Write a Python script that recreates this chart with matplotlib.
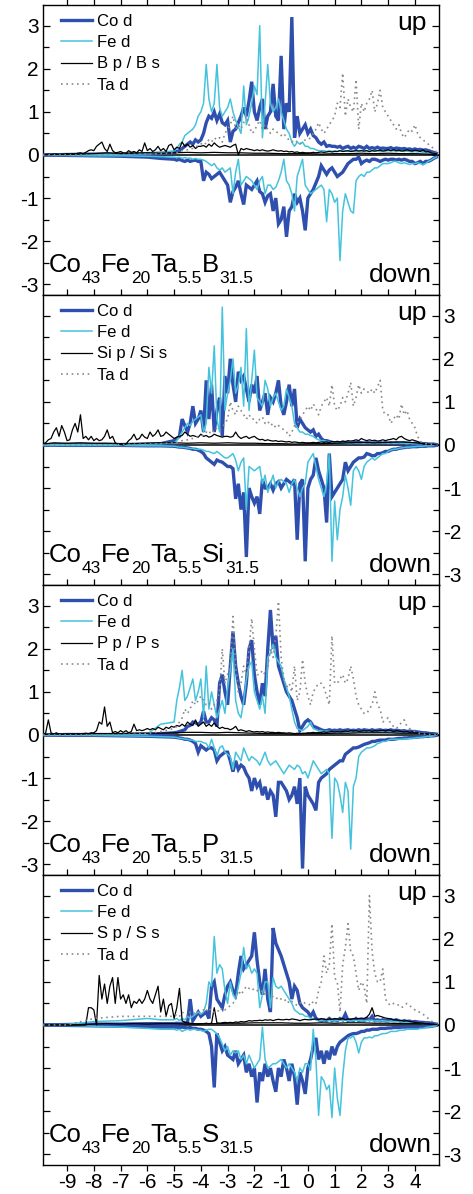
import numpy as np
import matplotlib
matplotlib.use("Agg")
import matplotlib.pyplot as plt
from matplotlib.ticker import MultipleLocator, FixedLocator
from matplotlib.transforms import IdentityTransform

plt.rcParams['font.family'] = ['Liberation Sans', 'DejaVu Sans']
plt.rcParams['axes.unicode_minus'] = False

# ---------------------------------------------------------------------------
# Energy grids (eV, relative to E_F)
#   d-states : coarse tail -9.9 .. -5.5, then 0.1 eV steps from -5.0 to 4.8
#   p-states : 0.1 eV steps over the full window
#   s-states : 0.5 eV steps
# ---------------------------------------------------------------------------
E_D = np.round(np.concatenate([[-9.9, -9.0, -8.0, -7.0, -6.0, -5.5],
                               np.arange(-5.0, 4.85, 0.1)]), 2)
E_P = np.round(np.arange(-9.9, 4.85, 0.1), 2)
E_S = np.round(np.concatenate([[-9.9], np.arange(-9.5, 4.55, 0.5), [4.8]]), 2)

# ----------------------------- Co43Fe20Ta5.5B31.5 ---------------------------
CO_UP_B = [0.0, 0.01, 0.02, 0.02, 0.03, 0.04,
           0.05, 0.08, 0.1, 0.15, 0.2, 0.25, 0.3, 0.25, 0.35, 0.3,
           0.35, 0.5, 0.75, 0.9, 0.85, 1.0, 0.8, 0.95, 0.75, 0.7,
           0.8, 0.3, 0.55, 0.6, 0.75, 0.9, 1.1, 0.9, 1.25, 1.7,
           1.0, 0.8, 1.1, 1.3, 0.6, 0.9, 1.0, 1.65, 0.9, 0.8,
           2.3, 0.6, 1.2, 1.0, 3.2, 0.4, 0.9, 0.5, 0.6, 0.7,
           0.5, 0.6, 0.45, 0.4, 0.3, 0.25, 0.3, 0.2, 0.22, 0.2,
           0.2, 0.18, 0.2, 0.15, 0.18, 0.2, 0.15, 0.18, 0.15, 0.2,
           0.18, 0.15, 0.2, 0.15, 0.17, 0.15, 0.18, 0.15, 0.16, 0.15,
           0.15, 0.17, 0.14, 0.16, 0.15, 0.14, 0.15, 0.13, 0.14, 0.12,
           0.14, 0.12, 0.13, 0.11, 0.12, 0.1, 0.08, 0.06, 0.04]
CO_DN_B = [0.0, -0.01, -0.02, -0.03, -0.05, -0.08,
           -0.1, -0.12, -0.1, -0.13, -0.15, -0.12, -0.15, -0.13, -0.12, -0.15,
           -0.15, -0.6, -0.4, -0.45, -0.55, -0.5, -0.45, -0.4, -0.5, -0.6,
           -0.7, -1.1, -0.85, -0.75, -0.6, -0.9, -1.15, -0.7, -0.75, -0.8,
           -0.7, -0.6, -0.85, -0.9, -1.1, -0.95, -0.9, -1.3, -1.0, -1.6,
           -1.5, -1.2, -1.9, -1.3, -1.2, -0.9, -1.1, -1.0, -1.3, -1.75,
           -1.0, -0.9, -0.8, -0.65, -0.5, -0.25, -0.35, -0.45, -0.35, -0.3,
           -0.4, -0.5, -0.45, -0.4, -0.3, -0.2, -0.15, -0.1, -0.1, -0.05,
           -0.2, -0.15, -0.12, -0.15, -0.1, -0.1, -0.12, -0.15, -0.12, -0.1,
           -0.12, -0.1, -0.1, -0.12, -0.1, -0.12, -0.1, -0.12, -0.15, -0.15,
           -0.2, -0.18, -0.15, -0.2, -0.15, -0.15, -0.12, -0.08, -0.05]
FE_UP_B = [0.0, 0.01, 0.01, 0.02, 0.03, 0.05,
           0.1, 0.15, 0.25, 0.3, 0.45, 0.5, 0.55, 0.6, 0.7, 0.9,
           1.0, 1.2, 2.1, 1.3, 1.0, 1.2, 2.1, 1.1, 0.9, 1.0,
           1.1, 1.3, 1.0, 0.8, 0.65, 0.5, 1.6, 0.7, 0.9, 1.2,
           1.6, 1.4, 3.0, 0.4, 1.2, 2.1, 1.2, 1.0, 1.1, 1.3,
           1.0, 0.8, 0.6, 0.5, 0.3, 0.2, 0.3, 0.25, 0.3, 0.2,
           0.2, 0.15, 0.15, 0.12, 0.1, 0.1, 0.1, 0.08, 0.1, 0.08,
           0.1, 0.08, 0.1, 0.09, 0.1, 0.08, 0.1, 0.09, 0.1, 0.1,
           0.1, 0.09, 0.1, 0.08, 0.1, 0.09, 0.1, 0.08, 0.1, 0.09,
           0.1, 0.09, 0.1, 0.08, 0.09, 0.1, 0.08, 0.09, 0.08, 0.07,
           0.08, 0.07, 0.08, 0.06, 0.07, 0.05, 0.05, 0.04, 0.03]
FE_DN_B = [0.0, -0.01, -0.02, -0.02, -0.03, -0.04,
           -0.05, -0.06, -0.05, -0.08, -0.06, -0.08, -0.07, -0.1, -0.08, -0.1,
           -0.1, -0.12, -0.15, -0.2, -0.25, -0.2, -0.3, -0.35, -0.3, -0.4,
           -0.35, -0.3, -0.9, -0.4, -0.1, -0.7, -0.6, -0.5, -0.55, -0.6,
           -0.7, -0.8, -0.6, -0.5, -0.9, -0.7, -0.7, -0.8, -0.75, -0.6,
           -0.4, -0.1, -0.6, -0.7, -0.9, -1.3, -0.5, -0.3, -0.1, -0.7,
           -0.8, -0.9, -0.85, -0.8, -0.75, -0.7, -0.8, -1.55, -0.8, -0.9,
           -1.1, -1.0, -2.45, -1.3, -0.9, -1.1, -1.3, -1.35, -0.6, -0.5,
           -0.45, -0.5, -0.4, -0.4, -0.35, -0.3, -0.3, -0.25, -0.2, -0.2,
           -0.2, -0.18, -0.15, -0.15, -0.18, -0.2, -0.18, -0.2, -0.22, -0.2,
           -0.2, -0.18, -0.2, -0.22, -0.2, -0.15, -0.12, -0.08, -0.05]
TA_UP_B = [0.0, 0.0, 0.0, 0.01, 0.02, 0.03,
           0.05, 0.05, 0.08, 0.1, 0.1, 0.12, 0.15, 0.15, 0.2, 0.2,
           0.25, 0.3, 0.25, 0.35, 0.3, 0.4, 0.35, 0.4, 0.3, 0.5,
           0.6, 0.7, 0.9, 0.6, 0.7, 0.6, 0.75, 0.9, 0.7, 0.5,
           0.55, 0.7, 0.8, 0.6, 0.7, 0.6, 0.5, 0.6, 0.55, 0.5,
           0.45, 0.5, 0.4, 0.35, 0.3, 0.35, 0.3, 0.25, 0.3, 0.35,
           0.35, 0.4, 0.5, 0.6, 0.75, 0.6, 0.5, 0.6, 0.7, 0.8,
           0.9, 1.2, 1.1, 1.9, 0.9, 1.3, 1.1, 1.0, 1.75, 0.6,
           1.2, 1.0, 1.2, 1.3, 1.5, 1.0, 1.2, 1.5, 1.1, 1.0,
           0.9, 0.8, 0.7, 0.6, 0.7, 0.5, 0.4, 0.5, 0.6, 0.55,
           0.7, 0.5, 0.4, 0.35, 0.3, 0.25, 0.2, 0.15, 0.1]
XP_UP_B = [0.01, 0.01, 0.02, 0.01, 0.02, 0.02, 0.01, 0.02, 0.02, 0.03,
           0.02, 0.03, 0.02, 0.04, 0.05, 0.03, 0.06, 0.1, 0.12, 0.1,
           0.2, 0.25, 0.3, 0.15, 0.08, 0.25, 0.1, 0.05, 0.06, 0.08,
           0.05, 0.04, 0.1, 0.06, 0.08, 0.05, 0.12, 0.08, 0.28, 0.1,
           0.15, 0.08, 0.12, 0.2, 0.1, 0.15, 0.08, 0.22, 0.25, 0.12,
           0.18, 0.15, 0.3, 0.2, 0.25, 0.18, 0.22, 0.15, 0.2, 0.2,
           0.22, 0.18, 0.25, 0.2, 0.28, 0.22, 0.18, 0.2, 0.22, 0.2,
           0.18, 0.22, 0.25, 0.0, 0.15, 0.12, 0.15, 0.13, 0.12, 0.1,
           0.12, 0.1, 0.12, 0.1, 0.09, 0.1, 0.12, 0.1, 0.09, 0.1,
           0.08, 0.09, 0.07, 0.08, 0.06, 0.07, 0.05, 0.06, 0.05, 0.05,
           0.05, 0.06, 0.05, 0.06, 0.07, 0.06, 0.07, 0.08, 0.07, 0.08,
           0.08, 0.1, 0.08, 0.09, 0.1, 0.08, 0.09, 0.1, 0.09, 0.1,
           0.09, 0.1, 0.08, 0.1, 0.09, 0.1, 0.11, 0.09, 0.1, 0.12,
           0.1, 0.12, 0.1, 0.11, 0.09, 0.1, 0.12, 0.1, 0.09, 0.11,
           0.1, 0.08, 0.12, 0.07, 0.08, 0.05, 0.04, 0.03]
XS_UP_B = [0.0, 0.01, 0.01, 0.02, 0.03, 0.05, 0.03, 0.04, 0.05, 0.04, 0.05,
           0.06, 0.05, 0.06, 0.05, 0.05, 0.04, 0.04, 0.03, 0.03, 0.03,
           0.02, 0.03, 0.03, 0.04, 0.03, 0.04, 0.03, 0.03, 0.02, 0.01]

# ----------------------------- Co43Fe20Ta5.5Si31.5 --------------------------
CO_UP_SI = [0.0, 0.01, 0.01, 0.01, 0.02, 0.03,
            0.1, 0.15, 0.2, 0.6, 0.45, 0.3, 0.5, 0.9, 0.5, 0.6,
            0.8, 0.3, 1.5, 0.6, 1.4, 0.3, 0.8, 1.1, 0.2, 1.6,
            1.2, 2.0, 1.4, 1.0, 1.7, 1.5, 1.6, 1.3, 1.0, 1.4,
            1.2, 1.6, 0.8, 1.0, 1.2, 0.7, 1.1, 1.0, 1.2, 1.5,
            0.9, 0.7, 1.0, 1.4, 0.9, 1.3, 0.4, 0.6, 0.5, 0.4,
            0.35, 0.3, 0.35, 0.2, 0.25, 0.15, 0.1, 0.1, 0.08, 0.06,
            0.05, 0.06, 0.05, 0.06, 0.05, 0.05, 0.04, 0.05, 0.06, 0.05,
            0.05, 0.04, 0.05, 0.05, 0.04, 0.05, 0.04, 0.05, 0.04, 0.05,
            0.04, 0.05, 0.04, 0.05, 0.04, 0.04, 0.05, 0.04, 0.04, 0.03,
            0.04, 0.03, 0.04, 0.03, 0.03, 0.02, 0.02, 0.02, 0.01]
CO_DN_SI = [0.0, -0.01, -0.01, -0.01, -0.02, -0.02,
            -0.03, -0.04, -0.05, -0.05, -0.06, -0.07, -0.08, -0.1, -0.1, -0.12,
            -0.15, -0.2, -0.3, -0.35, -0.4, -0.45, -0.35, -0.38, -0.4, -0.45,
            -0.5, -0.5, -0.55, -1.25, -0.9, -1.5, -1.1, -2.6, -1.0, -1.2,
            -1.35, -1.2, -1.6, -0.8, -1.0, -1.0, -0.9, -1.05, -0.9, -0.85,
            -1.0, -0.9, -0.8, -0.85, -0.9, -0.8, -2.2, -0.9, -0.8, -2.7,
            -1.0, -0.8, -0.7, -0.3, -0.6, -0.8, -1.0, -1.8, -0.2, -1.2,
            -1.1, -1.0, -0.9, -0.8, -0.4, -0.6, -0.5, -0.4, -0.35, -0.3,
            -0.3, -0.28, -0.2, -0.22, -0.25, -0.25, -0.2, -0.2, -0.18, -0.15,
            -0.15, -0.12, -0.1, -0.1, -0.08, -0.07, -0.06, -0.05, -0.05, -0.04,
            -0.04, -0.04, -0.03, -0.03, -0.03, -0.02, -0.02, -0.02, -0.01]
FE_UP_SI = [0.0, 0.01, 0.01, 0.01, 0.02, 0.03,
            0.05, 0.1, 0.2, 0.3, 0.4, 0.5, 0.45, 0.55, 0.6, 0.65,
            0.7, 0.3, 0.5, 1.8, 1.2, 2.3, 0.6, 0.3, 3.2, 0.8,
            1.2, 1.5, 2.0, 1.2, 1.4, 1.8, 0.9, 2.7, 0.8, 1.5,
            2.2, 1.1, 1.0, 0.9, 1.5, 1.3, 0.9, 1.1, 1.2, 1.0,
            0.8, 0.9, 1.3, 1.1, 0.9, 0.5, 0.4, 0.3, 0.3, 0.25,
            0.25, 0.22, 0.2, 0.15, 0.12, 0.1, 0.1, 0.08, 0.07, 0.06,
            0.05, 0.05, 0.06, 0.05, 0.05, 0.04, 0.05, 0.05, 0.04, 0.05,
            0.05, 0.04, 0.05, 0.04, 0.05, 0.05, 0.04, 0.05, 0.04, 0.05,
            0.04, 0.05, 0.04, 0.04, 0.05, 0.04, 0.04, 0.03, 0.04, 0.03,
            0.03, 0.03, 0.03, 0.02, 0.02, 0.02, 0.01, 0.01, 0.01]
FE_DN_SI = [0.0, -0.01, -0.01, -0.01, -0.02, -0.02,
            -0.03, -0.04, -0.05, -0.05, -0.06, -0.07, -0.08, -0.08, -0.1, -0.1,
            -0.1, -0.12, -0.15, -0.15, -0.18, -0.2, -0.15, -0.2, -0.25, -0.3,
            -0.3, -0.25, -0.2, -0.35, -0.6, -0.4, -0.3, -1.5, -0.5, -0.55,
            -0.6, -0.55, -0.5, -0.9, -0.7, -1.1, -0.9, -0.7, -1.0, -0.85,
            -0.8, -0.85, -0.9, -1.1, -0.9, -0.8, -1.0, -1.2, -1.0, -0.9,
            -0.4, -0.3, -0.2, -0.5, -0.8, -1.0, -1.2, -0.9, -0.2, -2.7,
            -1.3, -2.2, -1.5, -1.2, -0.7, -1.0, -1.4, -0.6, -0.5, -0.6,
            -0.8, -0.5, -0.4, -0.35, -0.3, -0.35, -0.3, -0.25, -0.2, -0.2,
            -0.15, -0.12, -0.1, -0.1, -0.08, -0.07, -0.06, -0.05, -0.05, -0.04,
            -0.04, -0.03, -0.03, -0.03, -0.02, -0.02, -0.02, -0.01, -0.01]
TA_UP_SI = [0.0, 0.0, 0.0, 0.01, 0.02, 0.03,
            0.05, 0.05, 0.08, 0.1, 0.1, 0.12, 0.15, 0.15, 0.18, 0.2,
            0.2, 0.25, 0.3, 0.25, 0.35, 0.3, 0.4, 0.35, 0.4, 0.5,
            0.6, 1.0, 0.8, 0.7, 0.9, 0.8, 0.7, 0.6, 0.7, 0.6,
            0.6, 0.5, 0.6, 0.65, 0.5, 0.55, 0.45, 0.5, 0.4, 0.45,
            0.4, 0.35, 0.3, 0.2, 0.3, 0.45, 0.5, 0.6, 0.7, 0.8,
            0.9, 0.8, 0.95, 0.85, 0.7, 0.9, 1.0, 1.1, 0.9, 1.4,
            0.9, 0.8, 0.9, 1.1, 1.0, 1.2, 1.45, 0.9, 1.1, 1.4,
            1.2, 1.3, 1.25, 1.2, 1.3, 1.2, 1.35, 1.5, 0.8, 0.7,
            0.7, 0.5, 0.6, 0.7, 0.6, 0.95, 0.7, 0.8, 0.6, 0.5,
            0.4, 0.2, 0.08, 0.05, 0.03, 0.02, 0.02, 0.01, 0.01]
XP_UP_SI = [0.03, 0.05, 0.12, 0.15, 0.3, 0.4, 0.2, 0.45, 0.3, 0.1,
            0.12, 0.35, 0.5, 0.3, 0.7, 0.15, 0.2, 0.12, 0.2, 0.1,
            0.15, 0.1, 0.12, 0.2, 0.35, 0.15, 0.2, 0.05, 0.02, 0.01,
            0.0, 0.02, 0.1, 0.15, 0.25, 0.12, 0.15, 0.25, 0.18, 0.15,
            0.3, 0.2, 0.25, 0.35, 0.2, 0.22, 0.3, 0.25, 0.2, 0.15,
            0.18, 0.2, 0.22, 0.3, 0.25, 0.2, 0.22, 0.2, 0.18, 0.25,
            0.2, 0.22, 0.18, 0.2, 0.25, 0.22, 0.2, 0.18, 0.2, 0.2,
            0.18, 0.2, 0.3, 0.2, 0.15, 0.18, 0.2, 0.15, 0.18, 0.2,
            0.15, 0.12, 0.13, 0.1, 0.12, 0.1, 0.09, 0.1, 0.08, 0.09,
            0.08, 0.07, 0.08, 0.06, 0.07, 0.06, 0.05, 0.06, 0.05, 0.05,
            0.05, 0.06, 0.05, 0.06, 0.07, 0.06, 0.07, 0.06, 0.08, 0.07,
            0.08, 0.07, 0.09, 0.08, 0.1, 0.09, 0.1, 0.12, 0.1, 0.15,
            0.12, 0.1, 0.12, 0.1, 0.11, 0.09, 0.1, 0.12, 0.1, 0.12,
            0.13, 0.15, 0.12, 0.18, 0.2, 0.15, 0.12, 0.1, 0.12, 0.1,
            0.08, 0.05, 0.02, 0.02, 0.01, 0.01, 0.01, 0.0]
XS_UP_SI = [0.02, 0.05, 0.04, 0.05, 0.04, 0.04, 0.03, 0.03, 0.04, 0.05, 0.05,
            0.04, 0.05, 0.04, 0.05, 0.04, 0.04, 0.03, 0.03, 0.02, 0.03,
            0.03, 0.04, 0.05, 0.06, 0.05, 0.06, 0.07, 0.05, 0.02, 0.01]

# ----------------------------- Co43Fe20Ta5.5P31.5 ---------------------------
CO_UP_P = [0.0, 0.01, 0.01, 0.01, 0.02, 0.03,
           0.05, 0.06, 0.08, 0.1, 0.12, 0.2, 0.22, 0.3, 0.28, 0.25,
           0.3, 0.55, 0.3, 0.3, 0.4, 0.35, 0.2, 1.2, 1.4, 1.0,
           0.7, 1.6, 2.4, 1.6, 1.2, 0.9, 0.7, 1.2, 2.0, 2.2,
           1.4, 1.0, 0.7, 1.2, 0.9, 2.0, 2.9, 2.0, 2.3, 1.6,
           1.4, 1.2, 1.0, 0.9, 0.8, 0.6, 0.4, 0.1, 0.2, 0.3,
           0.35, 0.3, 0.2, 0.18, 0.15, 0.12, 0.1, 0.1, 0.12, 0.1,
           0.11, 0.1, 0.12, 0.1, 0.11, 0.12, 0.1, 0.11, 0.1, 0.12,
           0.1, 0.12, 0.11, 0.1, 0.12, 0.1, 0.11, 0.12, 0.1, 0.11,
           0.1, 0.12, 0.1, 0.11, 0.1, 0.09, 0.1, 0.08, 0.09, 0.08,
           0.08, 0.07, 0.06, 0.05, 0.05, 0.04, 0.03, 0.03, 0.02]
CO_DN_P = [0.0, -0.01, -0.01, -0.02, -0.03, -0.04,
           -0.05, -0.06, -0.07, -0.08, -0.1, -0.1, -0.12, -0.15, -0.2, -0.4,
           -0.25, -0.3, -0.35, -0.3, -0.3, -0.35, -0.6, -0.5, -0.45, -0.4,
           -0.4, -0.6, -0.85, -0.6, -0.8, -0.7, -0.75, -0.9, -1.0, -1.3,
           -1.0, -1.2, -1.1, -1.4, -1.2, -1.5, -1.3, -1.4, -1.9, -1.1,
           -1.1, -1.2, -1.3, -1.5, -1.4, -1.2, -1.6, -1.0, -3.1, -1.2,
           -1.4, -1.5, -1.6, -1.75, -1.1, -1.0, -0.95, -0.9, -0.8, -0.75,
           -0.7, -0.65, -0.6, -0.6, -0.45, -0.4, -0.35, -0.3, -0.3, -0.28,
           -0.25, -0.22, -0.2, -0.18, -0.15, -0.15, -0.13, -0.12, -0.12, -0.12,
           -0.1, -0.1, -0.1, -0.09, -0.08, -0.08, -0.07, -0.07, -0.06, -0.06,
           -0.05, -0.05, -0.04, -0.04, -0.03, -0.03, -0.02, -0.02, -0.01]
FE_UP_P = [0.0, 0.01, 0.01, 0.02, 0.02, 0.25,
           0.3, 0.8, 1.1, 1.5, 0.8, 0.9, 1.1, 1.3, 0.8, 1.0,
           1.3, 0.4, 1.6, 0.6, 1.0, 0.7, 0.4, 0.6, 0.8, 0.5,
           1.1, 1.5, 2.0, 0.8, 0.5, 0.4, 0.8, 1.3, 1.6, 1.7,
           1.0, 0.8, 0.6, 0.9, 0.5, 1.8, 1.9, 2.1, 1.8, 1.7,
           1.6, 1.3, 1.1, 0.9, 0.6, 0.3, 0.15, 0.12, 0.1, 0.15,
           0.2, 0.3, 0.15, 0.12, 0.1, 0.1, 0.08, 0.09, 0.08, 0.07,
           0.07, 0.08, 0.07, 0.06, 0.07, 0.08, 0.07, 0.06, 0.07, 0.08,
           0.07, 0.06, 0.07, 0.08, 0.07, 0.06, 0.07, 0.06, 0.07, 0.06,
           0.06, 0.07, 0.06, 0.05, 0.06, 0.05, 0.06, 0.05, 0.05, 0.04,
           0.05, 0.04, 0.04, 0.03, 0.03, 0.02, 0.02, 0.02, 0.01]
FE_DN_P = [0.0, -0.01, -0.01, -0.02, -0.03, -0.04,
           -0.05, -0.06, -0.08, -0.08, -0.1, -0.1, -0.12, -0.12, -0.15, -0.15,
           -0.15, -0.18, -0.2, -0.3, -0.1, -0.3, -0.5, -0.3, -0.25, -0.4,
           -0.45, -0.5, -0.8, -0.4, -0.5, -0.6, -0.3, -0.45, -0.6, -0.5,
           -0.55, -0.6, -0.7, -0.55, -0.4, -0.6, -0.7, -0.65, -0.6, -0.7,
           -0.8, -0.9, -0.8, -0.7, -0.75, -0.8, -0.7, -0.75, -0.9, -0.85,
           -1.0, -0.8, -0.6, -0.7, -0.8, -0.9, -0.85, -0.8, -0.9, -2.4,
           -1.0, -1.1, -1.4, -1.8, -1.1, -1.3, -2.65, -1.2, -1.0, -0.5,
           -0.4, -0.35, -0.3, -0.3, -0.28, -0.25, -0.2, -0.18, -0.15, -0.15,
           -0.12, -0.1, -0.1, -0.1, -0.1, -0.1, -0.09, -0.09, -0.08, -0.08,
           -0.07, -0.06, -0.06, -0.05, -0.04, -0.03, -0.03, -0.02, -0.01]
TA_UP_P = [0.0, 0.0, 0.0, 0.01, 0.03, 0.08,
           0.15, 0.2, 0.3, 0.4, 0.6, 0.5, 0.6, 0.8, 0.7, 0.8,
           0.9, 0.8, 0.7, 0.75, 0.6, 0.7, 0.8, 1.0, 2.0, 1.2,
           1.4, 1.6, 2.75, 1.6, 1.0, 1.2, 1.6, 1.4, 2.0, 2.7,
           2.0, 1.4, 1.4, 1.5, 1.4, 1.6, 2.0, 1.8, 2.3, 3.1,
           1.8, 1.3, 1.1, 1.2, 1.0, 1.6, 0.8, 1.0, 1.75, 1.2,
           0.9, 0.7, 1.0, 1.1, 1.2, 1.2, 1.1, 0.9, 0.7, 2.3,
           1.2, 1.2, 1.3, 1.4, 1.2, 1.3, 1.6, 1.3, 0.9, 0.7,
           0.6, 0.5, 0.5, 0.6, 0.7, 1.0, 0.7, 0.6, 0.3, 0.35,
           0.4, 0.25, 0.2, 0.15, 0.2, 0.3, 0.35, 0.2, 0.15, 0.1,
           0.08, 0.05, 0.03, 0.02, 0.02, 0.01, 0.01, 0.01, 0.0]
XP_UP_P = [0.0, 0.05, 0.35, 0.05, 0.02, 0.05, 0.02, 0.01, 0.02, 0.02,
           0.02, 0.03, 0.02, 0.03, 0.02, 0.03, 0.04, 0.03, 0.05, 0.05,
           0.1, 0.3, 0.25, 0.65, 0.2, 0.3, 0.05, 0.08, 0.05, 0.1,
           0.06, 0.1, 0.05, 0.08, 0.25, 0.1, 0.12, 0.1, 0.12, 0.15,
           0.12, 0.15, 0.12, 0.18, 0.15, 0.12, 0.18, 0.15, 0.2, 0.18,
           0.22, 0.2, 0.25, 0.2, 0.3, 0.25, 0.22, 0.35, 0.2, 0.25,
           0.3, 0.2, 0.25, 0.2, 0.28, 0.2, 0.15, 0.18, 0.15, 0.15,
           0.12, 0.15, 0.2, 0.1, 0.12, 0.1, 0.08, 0.1, 0.08, 0.07,
           0.08, 0.07, 0.08, 0.06, 0.07, 0.06, 0.06, 0.05, 0.06, 0.05,
           0.05, 0.04, 0.05, 0.04, 0.03, 0.04, 0.03, 0.04, 0.04, 0.05,
           0.05, 0.06, 0.05, 0.06, 0.06, 0.07, 0.06, 0.07, 0.08, 0.07,
           0.08, 0.07, 0.08, 0.09, 0.08, 0.1, 0.09, 0.1, 0.08, 0.09,
           0.1, 0.09, 0.1, 0.08, 0.1, 0.09, 0.1, 0.11, 0.09, 0.12,
           0.1, 0.08, 0.1, 0.09, 0.08, 0.07, 0.08, 0.06, 0.07, 0.05,
           0.05, 0.04, 0.03, 0.03, 0.02, 0.02, 0.01, 0.01]
XS_UP_P = [0.01, 0.02, 0.02, 0.02, 0.03, 0.03, 0.03, 0.04, 0.04, 0.04, 0.05,
           0.06, 0.06, 0.05, 0.06, 0.05, 0.04, 0.03, 0.03, 0.02, 0.03,
           0.03, 0.04, 0.04, 0.05, 0.05, 0.05, 0.04, 0.04, 0.02, 0.01]

# ----------------------------- Co43Fe20Ta5.5S31.5 ---------------------------
CO_UP_S = [0.0, 0.01, 0.02, 0.02, 0.03, 0.03,
           0.03, 0.04, 0.03, 0.04, 0.05, 0.05, 0.6, 0.1, 0.2, 0.3,
           0.2, 0.25, 0.3, 0.15, 0.9, 1.0, 0.6, 0.5, 0.4, 0.7,
           0.9, 1.0, 0.8, 0.7, 1.2, 1.6, 1.3, 1.4, 1.5, 1.6,
           2.15, 1.5, 1.0, 0.7, 1.3, 0.6, 0.3, 2.25, 1.9, 1.75,
           1.6, 1.4, 1.2, 1.0, 0.6, 0.9, 0.8, 0.5, 0.4, 0.35,
           0.3, 0.2, 0.3, 0.15, 0.12, 0.1, 0.12, 0.1, 0.15, 0.1,
           0.12, 0.1, 0.15, 0.12, 0.25, 0.1, 0.12, 0.1, 0.15, 0.1,
           0.12, 0.1, 0.15, 0.12, 0.2, 0.1, 0.12, 0.1, 0.12, 0.1,
           0.1, 0.12, 0.1, 0.12, 0.1, 0.08, 0.1, 0.08, 0.09, 0.07,
           0.08, 0.07, 0.06, 0.06, 0.05, 0.05, 0.04, 0.03, 0.02]
CO_DN_S = [0.0, -0.01, -0.02, -0.03, -0.04, -0.05,
           -0.05, -0.05, -0.06, -0.05, -0.06, -0.07, -0.06, -0.08, -0.08, -0.1,
           -0.1, -0.12, -0.15, -0.2, -0.5, -1.45, -0.2, -0.4, -0.6, -0.5,
           -0.7, -0.75, -0.8, -0.6, -0.9, -0.8, -0.7, -1.1, -0.9, -1.2,
           -1.0, -1.8, -1.1, -1.3, -0.9, -1.2, -1.0, -1.3, -1.55, -1.0,
           -1.2, -0.8, -1.0, -1.3, -0.9, -1.2, -1.85, -1.1, -1.3, -1.6,
           -1.0, -0.8, -0.5, -0.3, -0.8, -0.6, -0.9, -0.6, -0.8, -0.5,
           -0.7, -0.5, -0.4, -0.35, -0.3, -0.25, -0.22, -0.2, -0.2, -0.18,
           -0.15, -0.15, -0.12, -0.12, -0.1, -0.1, -0.1, -0.08, -0.08, -0.08,
           -0.07, -0.07, -0.06, -0.06, -0.06, -0.05, -0.05, -0.05, -0.05, -0.05,
           -0.05, -0.05, -0.05, -0.05, -0.04, -0.04, -0.03, -0.02, -0.01]
FE_UP_S = [0.0, 0.01, 0.08, 0.1, 0.15, 0.12,
           0.12, 0.15, 0.1, 0.15, 0.12, 0.2, 0.15, 0.2, 0.25, 0.3,
           0.25, 0.3, 0.5, 1.0, 0.9, 2.05, 1.2, 1.4, 1.3, 0.8,
           0.5, 1.0, 0.7, 0.6, 0.9, 1.2, 1.8, 1.3, 1.4, 1.2,
           1.3, 1.2, 0.4, 0.7, 1.0, 1.0, 0.4, 1.1, 0.9, 0.85,
           0.9, 0.8, 0.7, 0.6, 0.5, 0.35, 0.3, 0.25, 0.25, 0.2,
           0.2, 0.15, 0.15, 0.12, 0.1, 0.1, 0.12, 0.1, 0.1, 0.1,
           0.09, 0.1, 0.11, 0.1, 0.12, 0.1, 0.09, 0.1, 0.11, 0.1,
           0.1, 0.09, 0.1, 0.11, 0.1, 0.09, 0.1, 0.09, 0.1, 0.09,
           0.08, 0.09, 0.08, 0.07, 0.08, 0.07, 0.06, 0.06, 0.05, 0.05,
           0.05, 0.04, 0.04, 0.03, 0.03, 0.03, 0.02, 0.02, 0.01]
FE_DN_S = [0.0, -0.01, -0.03, -0.05, -0.08, -0.1,
           -0.1, -0.12, -0.1, -0.15, -0.12, -0.1, -0.12, -0.1, -0.1, -0.12,
           -0.12, -0.15, -0.12, -0.1, -0.1, -0.15, -0.2, -0.3, -0.45, -0.6,
           -0.5, -0.7, -0.6, -0.65, -0.6, -0.8, -0.7, -0.9, -0.7, -0.85,
           -1.0, -0.9, -0.8, -0.05, -0.8, -1.0, -0.95, -0.9, -0.9, -0.85,
           -0.8, -0.9, -1.0, -0.9, -1.0, -1.1, -1.3, -1.0, -1.1, -0.9,
           -0.9, -1.05, -0.1, -0.8, -2.1, -1.2, -1.3, -1.5, -1.4, -2.15,
           -1.0, -1.7, -2.1, -1.2, -0.6, -0.3, -0.3, -0.25, -0.4, -0.65,
           -0.4, -0.3, -0.3, -0.28, -0.3, -0.25, -0.25, -0.22, -0.2, -0.2,
           -0.18, -0.15, -0.15, -0.15, -0.13, -0.12, -0.12, -0.1, -0.1, -0.1,
           -0.1, -0.1, -0.08, -0.08, -0.06, -0.05, -0.04, -0.03, -0.02]
TA_UP_S = [0.0, 0.0, 0.15, 0.2, 0.2, 0.2,
           0.2, 0.25, 0.2, 0.3, 0.25, 0.2, 0.3, 0.25, 0.3, 0.3,
           0.3, 0.35, 0.3, 0.4, 0.3, 0.3, 0.35, 0.3, 0.4, 0.35,
           0.4, 0.45, 0.5, 0.6, 0.8, 0.7, 0.8, 0.9, 0.85, 0.8,
           0.85, 0.8, 0.75, 0.8, 0.7, 0.75, 0.7, 0.65, 0.6, 0.65,
           0.6, 0.55, 0.6, 0.5, 0.55, 0.5, 0.45, 0.5, 0.55, 0.5,
           0.5, 0.45, 0.55, 0.5, 0.8, 1.0, 1.6, 1.2, 1.4, 2.35,
           1.1, 1.0, 0.3, 1.4, 1.8, 2.35, 1.7, 1.6, 1.2, 0.8,
           1.0, 0.9, 0.5, 3.0, 1.7, 1.2, 1.0, 1.0, 1.3, 0.6,
           0.5, 0.45, 0.5, 0.5, 0.45, 0.4, 0.45, 0.5, 0.45, 0.4,
           0.35, 0.3, 0.3, 0.25, 0.2, 0.15, 0.1, 0.05, 0.03]
XP_UP_S = [0.0, 0.0, 0.0, 0.0, 0.0, 0.0, 0.0, 0.0, 0.0, 0.0,
           0.0, 0.0, 0.0, 0.0, 0.0, 0.0, 0.0, 0.4, 0.4, 0.35,
           0.0, 1.15, 0.6, 0.95, 0.5, 0.9, 1.1, 0.5, 1.1, 0.6,
           0.7, 0.5, 0.7, 0.4, 0.55, 0.5, 0.6, 0.5, 0.6, 0.8,
           0.6, 0.5, 0.7, 0.9, 0.3, 0.6, 0.2, 0.45, 0.5, 0.15,
           0.4, 0.85, 0.1, 0.06, 0.05, 0.04, 0.03, 0.03, 0.02, 0.03,
           0.03, 0.04, 0.03, 0.04, 0.4, 0.05, 0.04, 0.05, 0.06, 0.05,
           0.06, 0.05, 0.07, 0.06, 0.08, 0.07, 0.08, 0.1, 0.09, 0.1,
           0.1, 0.11, 0.1, 0.12, 0.11, 0.12, 0.1, 0.12, 0.13, 0.12,
           0.12, 0.13, 0.12, 0.14, 0.13, 0.12, 0.1, 0.12, 0.13, 0.12,
           0.12, 0.13, 0.14, 0.12, 0.15, 0.13, 0.12, 0.14, 0.13, 0.15,
           0.14, 0.13, 0.15, 0.12, 0.14, 0.13, 0.15, 0.14, 0.15, 0.16,
           0.15, 0.18, 0.25, 0.4, 0.2, 0.22, 0.2, 0.18, 0.16, 0.15,
           0.14, 0.12, 0.12, 0.1, 0.1, 0.09, 0.1, 0.08, 0.07, 0.06,
           0.05, 0.05, 0.04, 0.03, 0.03, 0.02, 0.02, 0.01]
XS_UP_S = [0.0, 0.0, 0.0, 0.0, 0.02, 0.03, 0.02, 0.03, 0.02, 0.03, 0.03,
           0.02, 0.03, 0.03, 0.04, 0.04, 0.05, 0.05, 0.05, 0.04, 0.04,
           0.05, 0.04, 0.05, 0.05, 0.04, 0.04, 0.03, 0.03, 0.02, 0.01]

# ---------------------------------------------------------------------------
# Composition labels: (text, is_subscript) pieces
ALLOY_PIECES = [
    [('Co', False), ('43', True), ('Fe', False), ('20', True),
     ('Ta', False), ('5.5', True), ('B', False), ('31.5', True)],
    [('Co', False), ('43', True), ('Fe', False), ('20', True),
     ('Ta', False), ('5.5', True), ('Si', False), ('31.5', True)],
    [('Co', False), ('43', True), ('Fe', False), ('20', True),
     ('Ta', False), ('5.5', True), ('P', False), ('31.5', True)],
    [('Co', False), ('43', True), ('Fe', False), ('20', True),
     ('Ta', False), ('5.5', True), ('S', False), ('31.5', True)],
]
METALLOID_LEGEND = ['B p / B s', 'Si p / Si s', 'P p / P s', 'S p / S s']
X_TICKS = [-9, -8, -7, -6, -5, -4, -3, -2, -1, 0, 1, 2, 3, 4]
Y_TICKS = [-3, -2, -1, 0, 1, 2, 3]

panels = [
    dict(co_up=CO_UP_B, co_dn=CO_DN_B, fe_up=FE_UP_B, fe_dn=FE_DN_B,
         ta_up=TA_UP_B, xp_up=XP_UP_B, xs_up=XS_UP_B),
    dict(co_up=CO_UP_SI, co_dn=CO_DN_SI, fe_up=FE_UP_SI, fe_dn=FE_DN_SI,
         ta_up=TA_UP_SI, xp_up=XP_UP_SI, xs_up=XS_UP_SI),
    dict(co_up=CO_UP_P, co_dn=CO_DN_P, fe_up=FE_UP_P, fe_dn=FE_DN_P,
         ta_up=TA_UP_P, xp_up=XP_UP_P, xs_up=XS_UP_P),
    dict(co_up=CO_UP_S, co_dn=CO_DN_S, fe_up=FE_UP_S, fe_dn=FE_DN_S,
         ta_up=TA_UP_S, xp_up=XP_UP_S, xs_up=XS_UP_S),
]

CO_COLOR = '#2f4fae'
FE_COLOR = '#45c3dd'
TA_COLOR = '#8a8a8a'

W, H = 473, 1194
fig = plt.figure(figsize=(W / 100, H / 100), dpi=100)
renderer = fig.canvas.get_renderer()

left_px, right_px = 43, 439
top_px, panel_h = 5, 290


def chem_label(ax, pieces, x_frac, y_frac, size_main=18.5, size_sub=12.5,
               drop_px=11.5):
    """Write a formula with large element symbols and lowered indices."""
    x, y = ax.transAxes.transform((x_frac, y_frac))
    for s, sub in pieces:
        t = ax.text(x, y - (drop_px if sub else 0.0), s,
                    transform=IdentityTransform(), ha='left', va='baseline',
                    fontsize=size_sub if sub else size_main)
        x += t.get_window_extent(renderer).width


for i, p in enumerate(panels):
    y_top = top_px + i * panel_h
    ax = fig.add_axes([left_px / W, 1 - (y_top + panel_h) / H,
                       (right_px - left_px) / W, panel_h / H])

    ax.axhline(0, color='black', lw=1.1, zorder=1)
    l_co, = ax.plot(E_D, p['co_up'], color=CO_COLOR, lw=2.4, zorder=3,
                    solid_joinstyle='miter')
    ax.plot(E_D, p['co_dn'], color=CO_COLOR, lw=2.4, zorder=3,
            solid_joinstyle='miter')
    l_fe, = ax.plot(E_D, p['fe_up'], color=FE_COLOR, lw=1.1, zorder=4)
    ax.plot(E_D, p['fe_dn'], color=FE_COLOR, lw=1.1, zorder=4)
    l_x, = ax.plot(E_P, p['xp_up'], color='black', lw=0.9, zorder=5)
    ax.plot(E_S, p['xs_up'], color='black', lw=0.9, zorder=5)
    l_ta, = ax.plot(E_D, p['ta_up'], color=TA_COLOR, lw=1.2,
                    ls=(0, (1.0, 2.2)), zorder=6)

    ax.set_xlim(-9.9, 4.9)
    ax.set_ylim(-3.25, 3.48)

    ax.xaxis.set_major_locator(FixedLocator(X_TICKS))
    ax.yaxis.set_major_locator(FixedLocator(Y_TICKS))
    ax.yaxis.set_minor_locator(MultipleLocator(0.5))
    ax.tick_params(axis='x', which='major', direction='out', length=4,
                   width=0.9, top=True, bottom=True,
                   labelbottom=(i == 3), labelsize=15, pad=2)
    label_left = (i % 2 == 0)
    ax.tick_params(axis='y', which='both', direction='in', left=True,
                   right=True, labelleft=label_left,
                   labelright=not label_left, labelsize=15, width=0.9,
                   pad=3)
    ax.tick_params(axis='y', which='major', length=5)
    ax.tick_params(axis='y', which='minor', length=4)
    for sp in ax.spines.values():
        sp.set_linewidth(1.0)

    ax.text(0.97, 0.915, 'up', transform=ax.transAxes, ha='right',
            va='baseline', fontsize=19)
    ax.text(0.982, 0.045, 'down', transform=ax.transAxes, ha='right',
            va='baseline', fontsize=19)
    chem_label(ax, ALLOY_PIECES[i], 0.015, 0.08)

    ax.legend([l_co, l_fe, l_x, l_ta],
              ['Co d', 'Fe d', METALLOID_LEGEND[i], 'Ta d'],
              loc='upper left', bbox_to_anchor=(0.045, 0.97),
              frameon=False, fontsize=12, handlelength=1.9,
              handletextpad=0.3, labelspacing=0.38, borderaxespad=0.0,
              borderpad=0.0)

fig.savefig('out.png', dpi=100)
